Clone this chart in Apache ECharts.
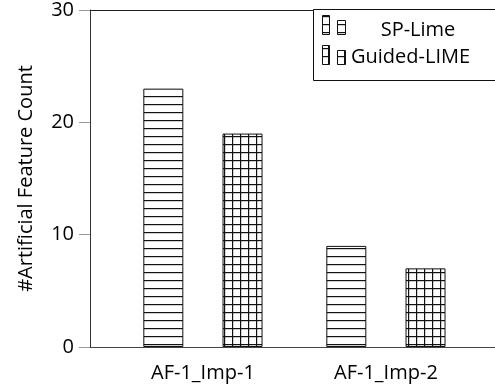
<!DOCTYPE html>
<html>
<head>
<meta charset="utf-8">
<script src="https://cdn.jsdelivr.net/npm/echarts@6/dist/echarts.min.js"></script>
<style>html,body{margin:0;padding:0;background:#fff}#c{width:495px;height:390px}</style>
</head>
<body>
<div id="c"></div>
<script>
const categories = ['AF-1_Imp-1', 'AF-1_Imp-2'];
const seriesNames = ['SP-Lime', 'Guided-LIME'];
const spLime = [23, 9];
const guidedLime = [19, 7];
const yTicks = [0, 10, 20, 30];

function makePattern(grid) {
  const c = document.createElement('canvas');
  c.width = 8; c.height = 8;
  const g = c.getContext('2d');
  g.fillStyle = '#fff'; g.fillRect(0, 0, 8, 8);
  g.fillStyle = '#111';
  g.fillRect(0, 0, 8, 1.2);
  if (grid) g.fillRect(0, 0, 1.2, 8);
  return c;
}
const hPat = { image: makePattern(false), repeat: 'repeat' };
const gPat = { image: makePattern(true), repeat: 'repeat' };
const FONT = 'Open Sans';
const FS = 20;

const chart = echarts.init(document.getElementById('c'), null, { renderer: 'canvas' });
const xMin = -0.617, xMax = 1.596;
chart.setOption({
  animation: false,
  textStyle: { fontFamily: FONT },
  grid: { left: 90, top: 9, right: 0, bottom: 43 },
  xAxis: [{
    type: 'value', min: xMin, max: xMax, position: 'bottom',
    axisLine: { show: true, onZero: false, lineStyle: { color: '#444', width: 1 } },
    axisTick: { show: false },
    splitLine: { show: false },
    axisLabel: {
      customValues: categories.map((_, i) => i),
      formatter: v => categories[Math.round(v)] || '',
      color: '#000', fontSize: FS, fontFamily: FONT, margin: 16
    }
  }, {
    type: 'value', min: xMin, max: xMax, position: 'top',
    axisLine: { show: true, onZero: false, lineStyle: { color: '#222', width: 1 } },
    axisTick: { show: false }, axisLabel: { show: false }, splitLine: { show: false }
  }],
  yAxis: {
    type: 'value', min: yTicks[0], max: yTicks[yTicks.length - 1], interval: 10,
    name: '#Artificial Feature Count', nameLocation: 'middle', nameGap: 54,
    nameTextStyle: { color: '#000', fontSize: FS, fontFamily: FONT },
    axisLine: { show: true, onZero: false, lineStyle: { color: '#333', width: 1 } },
    axisTick: { show: true, inside: false, length: 11, lineStyle: { color: '#999' } },
    splitLine: { show: false },
    axisLabel: { color: '#000', fontSize: FS, fontFamily: FONT, margin: 16 }
  },
  series: [{
    name: seriesNames[0], type: 'bar', barWidth: 40, barGap: '98%',
    data: spLime.map((v, i) => [i, v]),
    itemStyle: { color: hPat, borderColor: '#111', borderWidth: 1 }
  }, {
    name: seriesNames[1], type: 'bar', barWidth: 40, barGap: '98%',
    data: guidedLime.map((v, i) => [i, v]),
    itemStyle: { color: gPat, borderColor: '#111', borderWidth: 1 }
  }],
  graphic: [
    { type: 'rect', shape: { x: 313.5, y: 9.5, width: 200, height: 71 }, style: { fill: '#fff', stroke: '#111', lineWidth: 1 }, z: 10 },
    { type: 'rect', shape: { x: 322.5, y: 15.5, width: 7, height: 19 }, style: { fill: hPat, stroke: '#111', lineWidth: 1 }, z: 11 },
    { type: 'rect', shape: { x: 337.5, y: 20.5, width: 8, height: 14 }, style: { fill: hPat, stroke: '#111', lineWidth: 1 }, z: 11 },
    { type: 'text', x: 418, y: 30, style: { text: seriesNames[0], font: FS + 'px ' + FONT, fill: '#000', align: 'center', verticalAlign: 'middle' }, z: 11 },
    { type: 'rect', shape: { x: 322.5, y: 45.5, width: 7, height: 19 }, style: { fill: gPat, stroke: '#111', lineWidth: 1 }, z: 11 },
    { type: 'rect', shape: { x: 337.5, y: 50.5, width: 8, height: 14 }, style: { fill: gPat, stroke: '#111', lineWidth: 1 }, z: 11 },
    { type: 'text', x: 351, y: 57, style: { text: seriesNames[1], font: FS + 'px ' + FONT, fill: '#000', align: 'left', verticalAlign: 'middle' }, z: 11 }
  ]
});
</script>
</body>
</html>
